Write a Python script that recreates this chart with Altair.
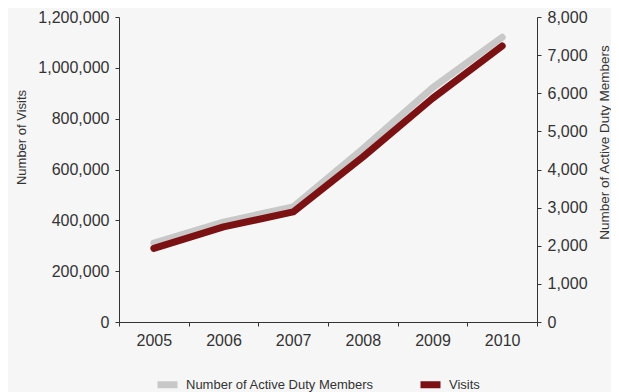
import altair as alt
import pandas as pd

years = ["2005", "2006", "2007", "2008", "2009", "2010"]
visits = [290000, 374000, 433000, 649000, 880000, 1086000]
members = [2070, 2620, 3020, 4540, 6140, 7470]
series_names = ["Number of Active Duty Members", "Visits"]
series_colors = ["#c8c8c8", "#7b1113"]
visit_ticks = [0, 200000, 400000, 600000, 800000, 1000000, 1200000]
member_ticks = [0, 1000, 2000, 3000, 4000, 5000, 6000, 7000, 8000]

df_m = pd.DataFrame({"year": years, "value": members, "series": series_names[0]})
df_v = pd.DataFrame({"year": years, "value": visits, "series": series_names[1]})

FONT = "Liberation Sans"
INK = "#333333"

x = alt.X(
    "year:O",
    bandPosition=0.5,
    scale=alt.Scale(type="band", paddingInner=0, paddingOuter=0),
    axis=alt.Axis(title=None, labelAngle=0, tickBand="extent", labelFontSize=16,
                  labelPadding=6, tickSize=4),
)
color = alt.Color(
    "series:N",
    scale=alt.Scale(domain=series_names, range=series_colors),
    legend=alt.Legend(title=None, orient="none", direction="horizontal",
                      legendX=35, legendY=354, symbolType="stroke",
                      symbolStrokeWidth=7, symbolSize=400, labelFontSize=13,
                      labelFont=FONT, labelColor=INK, columnPadding=32,
                      labelOffset=5, labelLimit=400),
)

members_line = alt.Chart(df_m).mark_line(strokeWidth=7, strokeCap="round", strokeJoin="round").encode(
    x=x,
    y=alt.Y("value:Q", scale=alt.Scale(domain=[0, 8000]),
            axis=alt.Axis(orient="right", title="Number of Active Duty Members",
                          values=member_ticks, format=",d", labelFontSize=16,
                          labelPadding=6, tickSize=4, titleAngle=270,
                          titleX=74, titleY=125, titleFontSize=13.5,
                          titleFontWeight="normal")),
    color=color,
)
visits_line = alt.Chart(df_v).mark_line(strokeWidth=7, strokeCap="round", strokeJoin="round").encode(
    x=x,
    y=alt.Y("value:Q", scale=alt.Scale(domain=[0, 1200000]),
            axis=alt.Axis(orient="left", title="Number of Visits",
                          values=visit_ticks, format=",d", labelFontSize=16,
                          labelPadding=6, tickSize=4, titleAngle=270,
                          titleX=-91, titleY=120, titleFontSize=13,
                          titleFontWeight="normal")),
    color=color,
)

chart = (
    alt.layer(members_line, visits_line)
    .resolve_scale(y="independent")
    .properties(width=418, height=305,
                padding={"left": 111, "top": 9, "right": 74, "bottom": 70},
                autosize=alt.AutoSizeParams(type="none"),
                background="#f6f6f6")
    .configure_view(stroke=None)
    .configure_axis(grid=False, domainColor=INK, tickColor=INK, labelColor=INK,
                    titleColor=INK, labelFont=FONT, titleFont=FONT)
)

chart.save("out.html", embed_options={"renderer": "svg", "actions": False})
